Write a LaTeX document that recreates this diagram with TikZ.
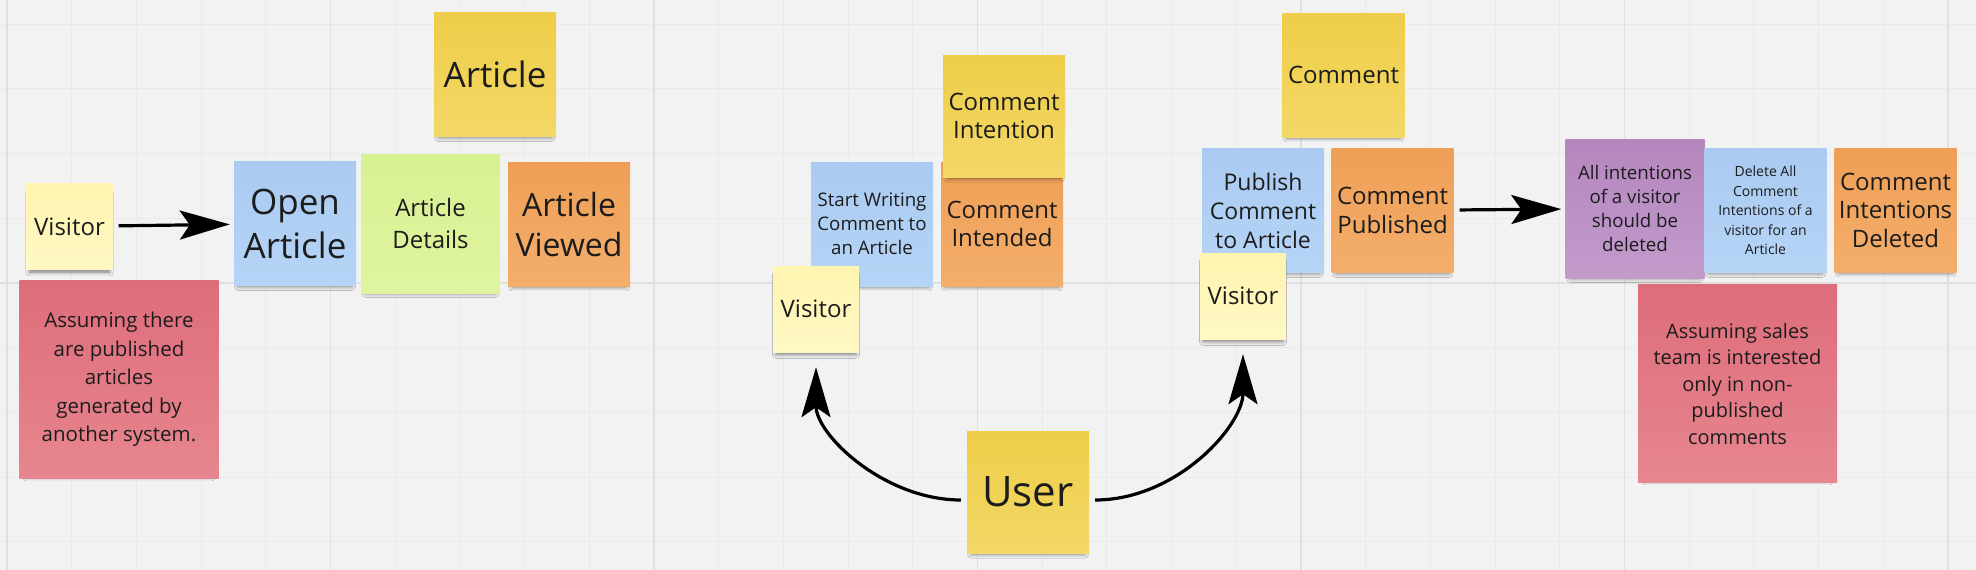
\documentclass[tikz,border=0pt]{standalone}
\usepackage{fontspec}
\setmainfont{Open Sans}
\usetikzlibrary{arrows.meta,shadows.blur}

\definecolor{board}{HTML}{F2F2F2}
\definecolor{gridminor}{HTML}{EAEAEA}
\definecolor{gridmajor}{HTML}{E0E0E0}
\definecolor{ink}{HTML}{1C1C1C}

\tikzset{
  grid minor/.style={gridminor, line width=1pt},
  grid major/.style={gridmajor, line width=1.6pt},
  every note/.style={rectangle, inner sep=0pt, align=center, text=ink,
    blur shadow={shadow xshift=0pt, shadow yshift=-6pt, shadow opacity=50,
      shadow blur radius=4pt, shadow scale=0.93}},
  yellow note/.style={top color={rgb,255:red,238;green,205;blue,72}, bottom color={rgb,255:red,243;green,216;blue,103}},
  pale note/.style={top color={rgb,255:red,255;green,244;blue,176}, bottom color={rgb,255:red,255;green,248;blue,196}},
  blue note/.style={top color={rgb,255:red,170;green,202;blue,241}, bottom color={rgb,255:red,181;green,212;blue,246}},
  green note/.style={top color={rgb,255:red,216;green,241;blue,146}, bottom color={rgb,255:red,223;green,244;blue,159}},
  orange note/.style={top color={rgb,255:red,239;green,159;blue,85}, bottom color={rgb,255:red,243;green,174;blue,108}},
  red note/.style={top color={rgb,255:red,222;green,109;blue,123}, bottom color={rgb,255:red,230;green,134;blue,143}},
  purple note/.style={top color={rgb,255:red,180;green,134;blue,191}, bottom color={rgb,255:red,194;green,155;blue,203}},
  note size/.style={minimum width=122pt, minimum height=124pt},
  wide size/.style={minimum width=139pt, minimum height=139pt},
  tiny size/.style={minimum width=86pt, minimum height=86pt},
  big size/.style={minimum width=199pt, minimum height=198pt},
  text user/.style={font=\fontsize{42}{50}\selectfont},
  text xl/.style={font=\fontsize{35}{44}\selectfont},
  text l/.style={font=\fontsize{32}{40}\selectfont},
  text m/.style={font=\fontsize{24}{28.5}\selectfont},
  text note/.style={font=\fontsize{20.5}{28.5}\selectfont},
  text s/.style={font=\fontsize{18.7}{24}\selectfont},
  text xs/.style={font=\fontsize{14}{19.5}\selectfont},
  flow/.style={-{Stealth[length=50pt, width=29pt, inset=10pt]}, line width=3.2pt,
    shorten <=6pt, shorten >=4pt},
}

\begin{document}
\begin{tikzpicture}[x=1pt, y=-1pt]

	% board
	\useasboundingbox (0,0) rectangle (1976,570);
	\fill[board] (0,0) rectangle (1976,570);
	\foreach \k in {0,...,30}
		\draw[grid minor] ({7+64.7*\k},0) -- ({7+64.7*\k},570);
	\foreach \k in {0,...,8}
		\draw[grid minor] (0,{24.2+64.7*\k}) -- (1976,{24.2+64.7*\k});
	\foreach \k in {0,...,6}
		\draw[grid major] ({7+323.5*\k},0) -- ({7+323.5*\k},570);
	\draw[grid major] (0,283) -- (1976,283);

	% open article
	\node[every note, red note, big size, text note] (assume-1) at (119,379.5)
		{Assuming there\\are published\\articles\\generated by\\another system.};
	\node[every note, blue note, note size, text xl] (open-article) at (295,223.5) {Open\\Article};
	\node[every note, green note, wide size, text m, font=\fontsize{24}{32}\selectfont] (article-details) at (430.5,223.5) {Article\\Details};
	\node[every note, orange note, note size, text l] (article-viewed) at (569,224) {Article\\Viewed};
	\node[every note, yellow note, note size, text xl] (article) at (495,74.5) {Article};

	% comment intention
	\node[every note, blue note, note size, text s] (start-writing) at (872,224)
		{Start Writing\\Comment to\\an Article};
	\node[every note, orange note, note size, text m] (comment-intended) at (1002,224) {Comment\\Intended};
	\node[every note, yellow note, note size, text m, minimum height=122pt] (comment-intention) at (1004,116)
		{Comment\\Intention};

	% publish comment
	\node[every note, blue note, note size, text m, font=\fontsize{23}{29}\selectfont] (publish) at (1263,210.5)
		{Publish\\Comment\\to Article};
	\node[every note, orange note, note size, text m] (comment-published) at (1392.5,210.5) {Comment\\Published};
	\node[every note, yellow note, note size, text m] (comment) at (1343.5,75) {Comment};

	% visitors
	\foreach \n/\x/\y in {1/69.5/226.5, 2/816/309, 3/1243/296}
		\node[every note, pale note, tiny size, text m] (visitor-\n) at (\x,\y) {Visitor};

	% user
	\node[every note, yellow note, note size, minimum height=122pt, text user] (user) at (1028,492) {User};

	% delete intentions
	\node[every note, purple note, wide size, text s] (all-intentions) at (1635,208.5)
		{All intentions\\of a visitor\\should be\\deleted};
	\node[every note, blue note, note size, text xs] (delete-all) at (1765.5,210.5)
		{Delete All\\Comment\\Intentions of a\\visitor for an\\Article};
	\node[every note, orange note, note size, text m] (intentions-deleted) at (1895.5,210)
		{Comment\\Intentions\\Deleted};
	\node[every note, red note, big size, text note, font=\fontsize{20}{26.5}\selectfont] (assume-2) at (1737.5,383.5)
		{Assuming sales\\team is interested\\only in non-\\published\\comments};

	% arrows
	\draw[flow] (visitor-1) -- (open-article);
	\draw[flow] (comment-published) -- (all-intentions);
	\draw[flow, shorten >=15pt] ([yshift=-8pt]user.west) to[out=180, in=-90] (visitor-2);
	\draw[flow, shorten >=15pt] ([yshift=-8pt]user.east) to[out=0, in=-90] (visitor-3);

\end{tikzpicture}
\end{document}
